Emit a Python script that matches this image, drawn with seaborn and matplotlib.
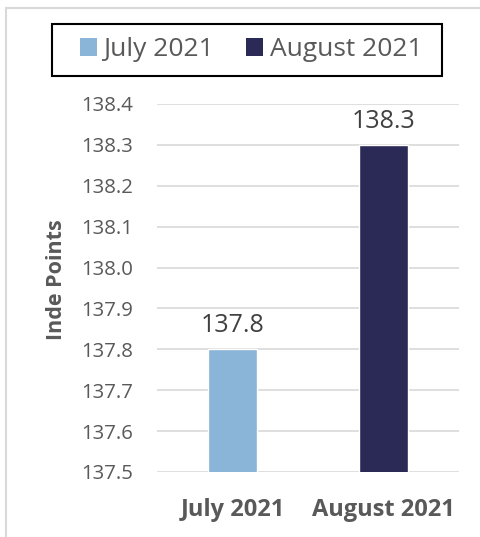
import matplotlib
matplotlib.use("Agg")
import matplotlib.pyplot as plt
import seaborn as sns
from matplotlib.patches import Patch, Rectangle

categories = ["July 2021", "August 2021"]
values = [137.8, 138.3]
colors = ["#8AB4D8", "#2B2A57"]
yticks = [137.5, 137.6, 137.7, 137.8, 137.9, 138.0, 138.1, 138.2, 138.3, 138.4]
ylabel = "Inde Points"

sns.set_theme(style="white")
plt.rcParams["font.family"] = ["Open Sans", "DejaVu Sans"]
text_color = "#595959"

fig = plt.figure(figsize=(4.81, 5.37), dpi=100)
ax = fig.add_axes([157/481, 1-472/537, (459-157)/481, (472-104)/537])

sns.barplot(x=categories, y=values, hue=categories, palette=colors,
            width=0.32, legend=False, ax=ax, saturation=1)

ax.set_ylim(137.5, 138.4)
ax.set_yticks(yticks)
ax.set_yticklabels([f"{t:.1f}" for t in yticks], color=text_color, fontsize=14.7)
ax.yaxis.grid(True, color="#D9D9D9", linewidth=1.2)
ax.set_axisbelow(True)
for s in ax.spines.values():
    s.set_visible(False)
ax.tick_params(axis="y", length=0, pad=17)
ax.tick_params(axis="x", length=0, pad=19)
for lbl in ax.get_xticklabels():
    lbl.set_fontweight("bold")
    lbl.set_fontsize(17)
    lbl.set_color(text_color)
ax.set_xlabel("")
ax.set_ylabel(ylabel, fontsize=15.5, fontweight="bold", color=text_color)
ax.yaxis.set_label_coords((67-157)/302, (472-280)/368)

for i, v in enumerate(values):
    ax.annotate(f"{v:.1f}", (i, v), xytext=(0, 8), textcoords="offset points",
                ha="center", va="bottom", fontsize=18, color="#404040")

handles = [Patch(facecolor=c, edgecolor="none") for c in colors]
leg = fig.legend(handles, categories, loc="center", bbox_to_anchor=(251/481, 1-49.5/537),
                 ncol=2, fontsize=19, frameon=False,
                 handlelength=0.65, handleheight=0.65, handletextpad=0.25,
                 columnspacing=1.2, borderpad=0.0, borderaxespad=0, labelcolor=text_color)

fig.patches.append(Rectangle((52/481, 1-76/537), 390/481, 52/537, transform=fig.transFigure,
                             fill=False, edgecolor="black", linewidth=1.5))
fig.patches.append(Rectangle((6/481, -0.1), 1.2, 1.1 - 8/537, transform=fig.transFigure,
                             fill=False, edgecolor="#D9D9D9", linewidth=1.5))

fig.savefig("out.png", dpi=100)
